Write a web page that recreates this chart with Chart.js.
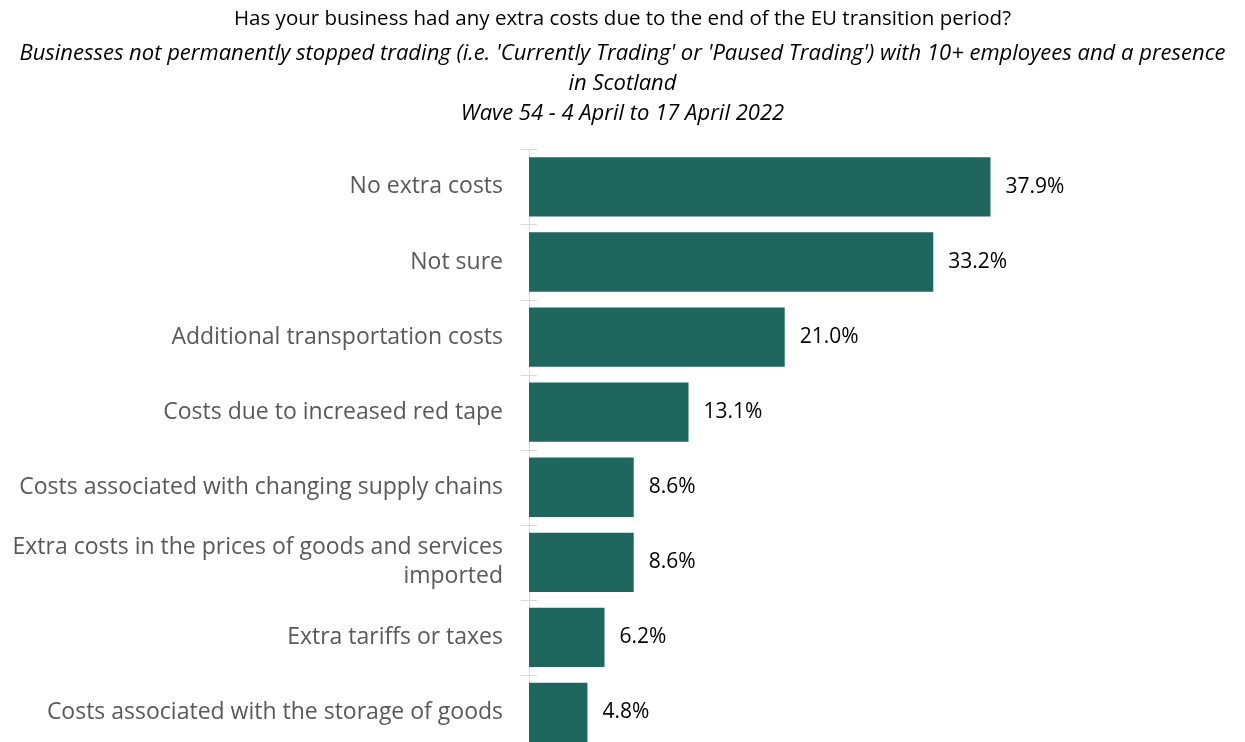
<!DOCTYPE html>
<html>
<head>
<meta charset="utf-8">
<title>Extra costs due to the end of the EU transition period</title>
<script src="https://cdn.jsdelivr.net/npm/chart.js@4"></script>
<style>
    html, body { margin: 0; padding: 0; background: #fff; overflow: hidden; }
    canvas { display: block; }
</style>
</head>
<body>
<canvas id="costChart" width="1245" height="750"></canvas>
<script>
const categories = [
    'No extra costs',
    'Not sure',
    'Additional transportation costs',
    'Costs due to increased red tape',
    'Costs associated with changing supply chains',
    ['Extra costs in the prices of goods and services', 'imported'],
    'Extra tariffs or taxes',
    'Costs associated with the storage of goods'
];
const shares = [37.9, 33.2, 21.0, 13.1, 8.6, 8.6, 6.2, 4.8];

const titleText = 'Has your business had any extra costs due to the end of the EU transition period?';
const subtitleLines = [
    "Businesses not permanently stopped trading (i.e. 'Currently Trading' or 'Paused Trading') with 10+ employees and a presence",
    'in Scotland',
    'Wave 54 - 4 April to 17 April 2022'
];

const FONT = '"Open Sans", Lato, sans-serif';

// percentage written just past the end of each bar
const valueLabels = {
    id: 'valueLabels',
    afterDatasetsDraw(chart) {
        const ctx = chart.ctx;
        const meta = chart.getDatasetMeta(0);
        ctx.save();
        ctx.font = '21px ' + FONT;
        ctx.fillStyle = '#000';
        ctx.textAlign = 'left';
        ctx.textBaseline = 'middle';
        meta.data.forEach((bar, i) => {
            ctx.fillText(shares[i].toFixed(1) + '%', bar.x + 15, bar.y);
        });
        ctx.restore();
    }
};

// short tick marks across the axis line at each category boundary
const axisTicks = {
    id: 'axisTicks',
    afterDraw(chart) {
        const y = chart.scales.y;
        const ctx = chart.ctx;
        const x0 = chart.chartArea.left;
        ctx.save();
        ctx.strokeStyle = '#d9d9d9';
        ctx.lineWidth = 1;
        for (let i = 0; i <= categories.length; i++) {
            const py = Math.round(y.getPixelForValue(i - 0.5)) + 0.5;
            ctx.beginPath();
            ctx.moveTo(x0 - 8, py);
            ctx.lineTo(x0 + 8, py);
            ctx.stroke();
        }
        ctx.restore();
    }
};

new Chart(document.getElementById('costChart').getContext('2d'), {
    type: 'bar',
    data: {
        labels: categories,
        datasets: [{
            data: shares,
            backgroundColor: '#1f665e',
            borderWidth: 0,
            categoryPercentage: 1,
            barPercentage: 0.79
        }]
    },
    options: {
        indexAxis: 'y',
        responsive: false,
        animation: false,
        layout: { padding: 0 },
        scales: {
            x: {
                display: false,
                min: 0,
                max: 58.8
            },
            y: {
                afterFit: (scale) => {
                    // labels sit inside their bands, so no end padding is needed
                    scale.width = 529;
                    scale.paddingTop = 0;
                    scale.paddingBottom = 0;
                },
                border: { display: true, color: '#d9d9d9', width: 1 },
                grid: { display: false },
                ticks: {
                    color: '#595959',
                    padding: 18,
                    font: { family: FONT, size: 23, lineHeight: 1.26 }
                }
            }
        },
        plugins: {
            legend: { display: false },
            tooltip: { enabled: false },
            title: {
                display: true,
                text: titleText,
                color: '#000',
                font: { family: FONT, size: 20.5, weight: 'normal', lineHeight: 1.2 },
                padding: { top: 7, bottom: 4 }
            },
            subtitle: {
                display: true,
                text: subtitleLines,
                color: '#000',
                font: { family: FONT, size: 22, style: 'italic', lineHeight: 1.36 },
                padding: { top: 3, bottom: 21 }
            }
        }
    },
    plugins: [valueLabels, axisTicks]
});
</script>
</body>
</html>
